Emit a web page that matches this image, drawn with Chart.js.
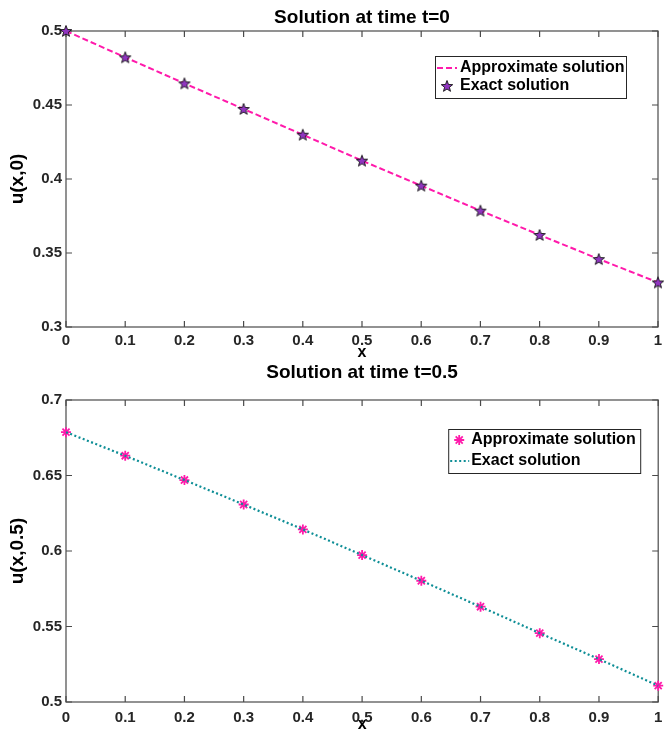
<!DOCTYPE html>
<html>
<head>
<meta charset="utf-8">
<title>Solution at time t=0 and t=0.5</title>
<script src="https://cdn.jsdelivr.net/npm/chart.js"></script>
<style>
  html, body { margin: 0; padding: 0; background: #fff; overflow: hidden; }
  #wrap { position: relative; width: 665px; height: 729px; }
  canvas { position: absolute; left: 0; }
  #chart-top { top: 0; }
  #chart-bottom { top: 360px; }
</style>
</head>
<body>
<div id="wrap">
  <canvas id="chart-top" width="665" height="370"></canvas>
  <canvas id="chart-bottom" width="665" height="380"></canvas>
</div>
<script>
'use strict';

// **** Data ****

let xValues = [0, 0.1, 0.2, 0.3, 0.4, 0.5, 0.6, 0.7, 0.8, 0.9, 1];
let xTickLabels = ['0', '0.1', '0.2', '0.3', '0.4', '0.5', '0.6', '0.7', '0.8', '0.9', '1'];

// t = 0
let approxT0 = [0.5, 0.4822, 0.4646, 0.4473, 0.4299, 0.4124, 0.3955, 0.3786, 0.3622, 0.3459, 0.3301];
let exactT0 = [0.5, 0.4822, 0.4646, 0.4473, 0.4299, 0.4124, 0.3955, 0.3786, 0.3622, 0.3459, 0.3301];
let yTicksT0 = [0.3, 0.35, 0.4, 0.45, 0.5];
let yTickLabelsT0 = ['0.3', '0.35', '0.4', '0.45', '0.5'];

// t = 0.5
let approxT05 = [0.6787, 0.6631, 0.647, 0.6308, 0.6143, 0.5973, 0.5803, 0.5631, 0.5456, 0.5284, 0.5108];
let exactT05 = [0.6787, 0.6631, 0.647, 0.6308, 0.6143, 0.5973, 0.5803, 0.5631, 0.5456, 0.5284, 0.5108];
let yTicksT05 = [0.5, 0.55, 0.6, 0.65, 0.7];
let yTickLabelsT05 = ['0.5', '0.55', '0.6', '0.65', '0.7'];

// **** Styles ****

let fontFamily = '"Liberation Sans", Arial, Helvetica, sans-serif';
let axisColor = '#4a4a4a';
let tickTextColor = '#262626';
let pinkColor = '#ff1aab';
let tealColor = '#0e8e96';
let purpleColor = '#9035c0';

// **** Helpers ****

function toPoints(ys) {
  return xValues.map((x, i) => ({ x: x, y: ys[i] }));
}

// five pointed star like the matlab pentagram marker
function makePentagram(r, fill, stroke) {
  let c = document.createElement('canvas');
  let size = Math.ceil(r * 2 + 4);
  c.width = size;
  c.height = size;
  let g = c.getContext('2d');
  let cx = size / 2;
  let cy = size / 2 + 0.5;
  g.beginPath();
  for (let i = 0; i < 10; i++) {
    let rad = i % 2 === 0 ? r : r * 0.42;
    let ang = -Math.PI / 2 + i * Math.PI / 5;
    let px = cx + rad * Math.cos(ang);
    let py = cy + rad * Math.sin(ang);
    if (i === 0) {
      g.moveTo(px, py);
    } else {
      g.lineTo(px, py);
    }
  }
  g.closePath();
  g.fillStyle = fill;
  g.fill();
  g.lineWidth = 0.9;
  g.strokeStyle = stroke;
  g.stroke();
  return c;
}

let starMarker = makePentagram(6, purpleColor, '#111');

// **** Plugins ****

// box around the axes with inward ticks on all four sides
let matlabBox = {
  id: 'matlabBox',
  beforeDatasetsDraw(chart) {
    let ctx = chart.ctx;
    let a = chart.chartArea;
    let xs = chart.scales.x;
    let ys = chart.scales.y;
    let len = 6;
    ctx.save();
    ctx.strokeStyle = axisColor;
    ctx.lineWidth = 1.2;
    ctx.strokeRect(a.left, a.top, a.right - a.left, a.bottom - a.top);
    ctx.beginPath();
    xs.ticks.forEach(t => {
      let px = xs.getPixelForValue(t.value);
      ctx.moveTo(px, a.bottom);
      ctx.lineTo(px, a.bottom - len);
      ctx.moveTo(px, a.top);
      ctx.lineTo(px, a.top + len);
    });
    ys.ticks.forEach(t => {
      let py = ys.getPixelForValue(t.value);
      ctx.moveTo(a.left, py);
      ctx.lineTo(a.left + len, py);
      ctx.moveTo(a.right, py);
      ctx.lineTo(a.right - len, py);
    });
    ctx.stroke();
    ctx.restore();
  }
};

// legend drawn inside the axes, with a frame
let boxLegend = {
  id: 'boxLegend',
  afterDatasetsDraw(chart, args, opts) {
    if (!opts || !opts.rows) {
      return;
    }
    let ctx = chart.ctx;
    let a = chart.chartArea;
    let left = a.right - opts.right - opts.width;
    let top = a.top + opts.top;
    ctx.save();
    ctx.fillStyle = '#fff';
    ctx.fillRect(left, top, opts.width, opts.height);
    ctx.strokeStyle = '#262626';
    ctx.lineWidth = 1;
    ctx.strokeRect(left + 0.5, top + 0.5, opts.width, opts.height);

    opts.rows.forEach(row => {
      let ds = chart.data.datasets[row.dataset];
      let y = top + row.y;
      if (row.kind === 'line') {
        ctx.save();
        ctx.strokeStyle = ds.borderColor;
        ctx.lineWidth = ds.borderWidth;
        ctx.setLineDash(ds.borderDash || []);
        ctx.beginPath();
        ctx.moveTo(left + opts.lineFrom, y);
        ctx.lineTo(left + opts.lineTo, y);
        ctx.stroke();
        ctx.restore();
      } else {
        ctx.save();
        ctx.strokeStyle = ds.pointBorderColor || ds.borderColor;
        ctx.fillStyle = ds.pointBackgroundColor || ds.borderColor;
        ctx.lineWidth = ds.pointBorderWidth || 1;
        Chart.helpers.drawPoint(ctx, {
          pointStyle: ds.pointStyle,
          radius: ds.pointRadius,
          borderWidth: ds.pointBorderWidth || 1,
          rotation: 0
        }, left + opts.markerX, y);
        ctx.restore();
      }
      ctx.fillStyle = '#000';
      ctx.font = 'bold 16px ' + fontFamily;
      ctx.textBaseline = 'middle';
      ctx.textAlign = 'left';
      ctx.fillText(ds.label, left + opts.textX, y);
    });
    ctx.restore();
  }
};

// **** Chart builder ****

function buildChart(canvasId, cfg) {
  let ctx = document.getElementById(canvasId).getContext('2d');

  let chartObj = {
    type: 'line',
    data: { datasets: cfg.datasets },
    options: {
      responsive: false,
      animation: false,
      devicePixelRatio: 1,
      layout: { padding: { left: 0, right: 2, top: 0, bottom: 0 } },
      scales: {
        x: {
          type: 'linear',
          min: 0,
          max: 1,
          afterBuildTicks: s => { s.ticks = xValues.map(v => ({ value: v })); },
          afterFit: s => {
            s.height = cfg.xHeight;
            s.paddingLeft = 0;
            s.paddingRight = 0;
          },
          grid: { display: false, drawTicks: false },
          border: { display: false },
          ticks: {
            callback: (v, i) => xTickLabels[i],
            font: { family: fontFamily, size: 15, weight: 'bold' },
            color: tickTextColor,
            padding: cfg.xTickPad,
            maxRotation: 0,
            autoSkip: false
          },
          title: {
            display: true,
            text: 'x',
            color: '#000',
            font: { family: fontFamily, size: 16, weight: 'bold' },
            padding: { top: 0, bottom: cfg.xTitleBottom }
          }
        },
        y: {
          type: 'linear',
          min: cfg.yTicks[0],
          max: cfg.yTicks[cfg.yTicks.length - 1],
          afterBuildTicks: s => { s.ticks = cfg.yTicks.map(v => ({ value: v })); },
          afterFit: s => {
            s.width = 66;
            s.paddingTop = 0;
            s.paddingBottom = 0;
          },
          grid: { display: false, drawTicks: false },
          border: { display: false },
          ticks: {
            callback: (v, i) => cfg.yTickLabels[i],
            font: { family: fontFamily, size: 15, weight: 'bold' },
            color: tickTextColor,
            padding: 4,
            autoSkip: false
          },
          title: {
            display: true,
            text: cfg.yTitle,
            color: '#000',
            font: { family: fontFamily, size: 19, weight: 'bold' },
            padding: { top: 6.6, bottom: 0 }
          }
        }
      },
      plugins: {
        legend: { display: false },
        tooltip: { enabled: false },
        title: {
          display: true,
          fullSize: false,
          text: cfg.title,
          color: '#000',
          font: { family: fontFamily, size: 19, weight: 'bold' },
          padding: cfg.titlePad
        },
        boxLegend: cfg.legend
      }
    },
    plugins: [matlabBox, boxLegend]
  };

  return new Chart(ctx, chartObj);
}

// **** Top chart: t = 0 ****

buildChart('chart-top', {
  title: 'Solution at time t=0',
  yTitle: 'u(x,0)',
  yTicks: yTicksT0,
  yTickLabels: yTickLabelsT0,
  xHeight: 43,
  xTickPad: 5,
  xTitleBottom: 8,
  titlePad: { top: 6.6, bottom: 1.6 },
  datasets: [
    {
      label: 'Approximate solution',
      data: toPoints(approxT0),
      borderColor: pinkColor,
      borderWidth: 2,
      borderDash: [6, 3],
      pointRadius: 0,
      showLine: true,
      clip: false,
      order: 2
    },
    {
      label: 'Exact solution',
      data: toPoints(exactT0),
      showLine: false,
      pointStyle: starMarker,
      pointRadius: 6,
      borderColor: purpleColor,
      clip: false,
      order: 1
    }
  ],
  legend: {
    right: 32,
    top: 25,
    width: 191,
    height: 42,
    lineFrom: 2,
    lineTo: 22,
    markerX: 12,
    textX: 25,
    rows: [
      { dataset: 0, kind: 'line', y: 12 },
      { dataset: 1, kind: 'marker', y: 30 }
    ]
  }
});

// **** Bottom chart: t = 0.5 ****

buildChart('chart-bottom', {
  title: 'Solution at time t=0.5',
  yTitle: 'u(x,0.5)',
  yTicks: yTicksT05,
  yTickLabels: yTickLabelsT05,
  xHeight: 38,
  xTickPad: 7,
  xTitleBottom: 5.4,
  titlePad: { top: 1.6, bottom: 15.6 },
  datasets: [
    {
      label: 'Approximate solution',
      data: toPoints(approxT05),
      showLine: false,
      pointStyle: 'star',
      pointRadius: 5,
      pointBorderWidth: 1.8,
      borderColor: pinkColor,
      backgroundColor: pinkColor,
      clip: false,
      order: 2
    },
    {
      label: 'Exact solution',
      data: toPoints(exactT05),
      borderColor: tealColor,
      borderWidth: 2.2,
      borderDash: [2, 2.5],
      pointRadius: 0,
      showLine: true,
      clip: false,
      order: 1
    }
  ],
  legend: {
    right: 18,
    top: 29,
    width: 192,
    height: 44,
    lineFrom: 2,
    lineTo: 21,
    markerX: 11,
    textX: 23,
    rows: [
      { dataset: 0, kind: 'marker', y: 11 },
      { dataset: 1, kind: 'line', y: 32 }
    ]
  }
});
</script>
</body>
</html>
